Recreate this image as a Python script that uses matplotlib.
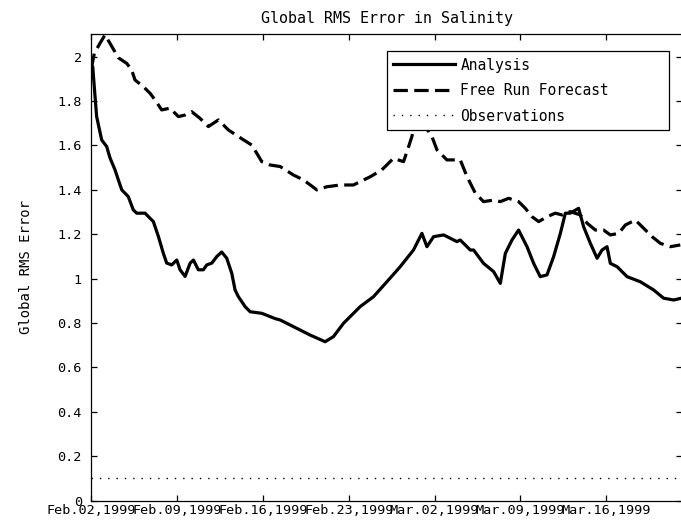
import matplotlib
matplotlib.use("Agg")
import matplotlib.pyplot as plt
import numpy as np

# ---- data (days since Feb 02, 1999) ----
analysis_day = [0.0, 0.1, 0.29, 0.42, 0.83, 1.24, 1.51, 1.92, 2.19, 2.47, 3.0, 3.41, 3.69, 4.37,
                5.05, 5.46, 5.86, 6.14, 6.55, 6.96, 7.23, 7.64, 8.05, 8.32, 8.72, 9.13, 9.41,
                9.82, 10.23, 10.63, 11.04, 11.45, 11.72, 11.99, 12.54, 12.95, 13.9, 15.0,
                15.4, 16.48, 17.85, 19.07, 19.75, 20.57, 21.93, 23.02, 24.11, 25.2, 26.28,
                26.97, 27.38, 27.92, 28.74, 29.83, 30.1, 30.92, 31.19, 32.0, 32.82, 33.37,
                33.78, 34.32, 34.86, 35.55, 36.09, 36.63, 37.18, 37.72, 38.27, 38.68, 39.08,
                39.76, 40.17, 40.72, 41.27, 41.67, 42.08, 42.35, 42.9, 43.72, 44.8, 45.89,
                46.7, 47.52, 48.15]
analysis_val = [1.94, 1.955, 1.82, 1.73, 1.625, 1.595, 1.544, 1.49, 1.445, 1.40, 1.37, 1.31, 1.295,
                1.295, 1.257, 1.19, 1.115, 1.07, 1.062, 1.084, 1.04, 1.01, 1.07, 1.084, 1.04,
                1.04, 1.062, 1.07, 1.10, 1.12, 1.092, 1.024, 0.949, 0.919, 0.874, 0.851, 0.844,
                0.82, 0.814, 0.784, 0.746, 0.716, 0.739, 0.799, 0.874, 0.919, 0.986, 1.054,
                1.129, 1.204, 1.144, 1.189, 1.197, 1.167, 1.174, 1.129, 1.129, 1.069, 1.032,
                0.979, 1.114, 1.174, 1.219, 1.144, 1.069, 1.009, 1.017, 1.099, 1.204, 1.295,
                1.295, 1.317, 1.234, 1.159, 1.092, 1.129, 1.144, 1.069, 1.054, 1.009, 0.986,
                0.949, 0.912, 0.904, 0.912]

forecast_day = [0.0, 0.23, 0.69, 1.1, 1.51, 2.19, 2.87, 3.28, 3.55, 4.23, 4.78, 5.19, 5.73, 6.41,
                7.09, 7.64, 8.18, 8.86, 9.54, 10.36, 11.17, 11.99, 13.08, 13.49, 13.9, 14.58,
                15.4, 16.48, 17.3, 18.39, 19.21, 20.3, 21.38, 21.93, 22.75, 23.7, 24.65, 25.47,
                25.88, 26.15, 26.6, 27.79, 28.2, 29.01, 30.1, 30.65, 31.33, 32.0, 32.82, 33.37,
                34.05, 34.86, 35.41, 35.96, 36.5, 37.18, 37.86, 38.41, 39.08, 39.9, 40.45,
                41.13, 41.8, 42.35, 43.03, 43.58, 44.39, 45.07, 45.76, 46.44, 47.25, 48.06]
forecast_val = [1.95, 2.015, 2.06, 2.098, 2.06, 1.995, 1.97, 1.94, 1.895, 1.865, 1.835, 1.805,
                1.76, 1.768, 1.73, 1.737, 1.752, 1.722, 1.685, 1.715, 1.67, 1.64, 1.602, 1.565,
                1.527, 1.512, 1.505, 1.467, 1.445, 1.40, 1.414, 1.422, 1.422, 1.437, 1.459,
                1.49, 1.542, 1.527, 1.594, 1.64, 1.74, 1.64, 1.58, 1.535, 1.535, 1.46, 1.385,
                1.347, 1.354, 1.347, 1.362, 1.347, 1.317, 1.279, 1.257, 1.279, 1.295, 1.287,
                1.302, 1.287, 1.25, 1.219, 1.219, 1.197, 1.204, 1.242, 1.264, 1.227, 1.189,
                1.159, 1.144, 1.152]

obs_day = [0.0, 48.2]
obs_val = [0.1, 0.1]

xtick_days = [0, 7, 14, 21, 28, 35, 42]
xtick_labels = ['Feb.02,1999', 'Feb.09,1999', 'Feb.16,1999', 'Feb.23,1999',
                'Mar.02,1999', 'Mar.09,1999', 'Mar.16,1999']
ytick_vals = [0, 0.2, 0.4, 0.6, 0.8, 1.0, 1.2, 1.4, 1.6, 1.8, 2.0]
ytick_labels = ['0', '0.2', '0.4', '0.6', '0.8', '1', '1.2', '1.4', '1.6', '1.8', '2']

FONT = 'DejaVu Sans Mono'

fig = plt.figure(figsize=(6.81, 5.31), dpi=100)
ax = fig.add_axes([91.5/681, (531-500.7)/531, 590.5/681, 466.7/531])

ax.plot(analysis_day, analysis_val, color='black', lw=2.3, solid_joinstyle='round',
        label='Analysis')
ax.plot(forecast_day, forecast_val, color='black', lw=2.3, dashes=(4.5, 2.0),
        label='Free Run Forecast')
ax.plot(obs_day, obs_val, color='black', lw=1.0, linestyle=(0, (1, 5)),
        label='Observations')

ax.set_xlim(0, 48.2)
ax.set_ylim(0, 2.102)
ax.set_xticks(xtick_days)
ax.set_xticklabels(xtick_labels, fontfamily=FONT, fontsize=9.7)
ax.set_yticks(ytick_vals)
ax.set_yticklabels(ytick_labels, fontfamily=FONT, fontsize=9.7)
ax.tick_params(direction='in', length=4.5, width=0.9, top=True, right=True)
ax.tick_params(axis='x', pad=2.5)
ax.tick_params(axis='y', pad=7)
for s in ax.spines.values():
    s.set_linewidth(0.9)

ax.set_title('Global RMS Error in Salinity', fontfamily=FONT, fontsize=10.8, pad=7.7)
ax.set_ylabel('Global RMS Error', fontfamily=FONT, fontsize=10)
ax.yaxis.set_label_coords((33 - 91.5) / 590.5, 0.5)

leg = ax.legend(loc='upper left', bbox_to_anchor=(0.50, 0.79, 0.478, 0.1736),
                mode='expand', borderaxespad=0, fancybox=False, framealpha=1,
                edgecolor='black', prop={'family': FONT, 'size': 10.5},
                handlelength=4.2, handletextpad=0.4, labelspacing=0.72,
                borderpad=0.45)
leg.get_frame().set_linewidth(0.9)

fig.savefig('out.png', dpi=100)
